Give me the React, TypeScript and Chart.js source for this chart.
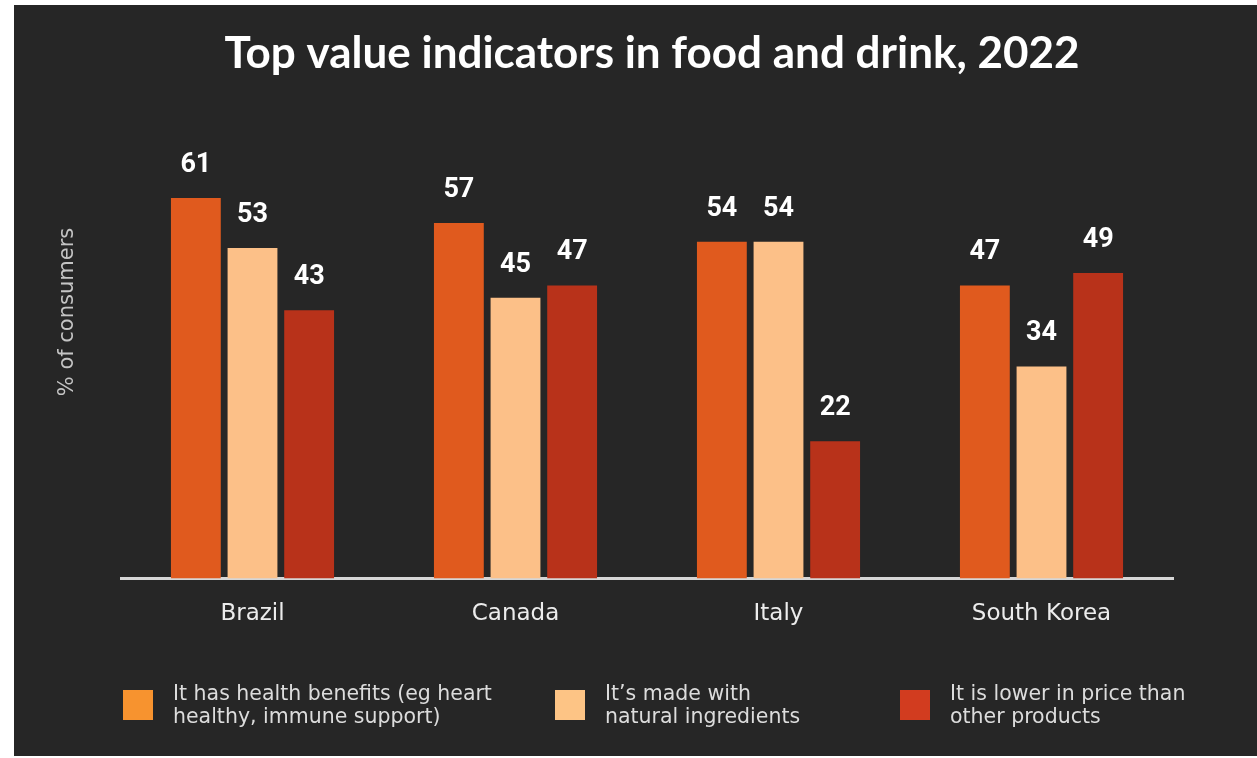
import React, { useEffect, useRef } from "react";
import { Chart, registerables } from "chart.js";

Chart.register(...registerables);

const titleText = "Top value indicators in food and drink, 2022";
const yAxisTitle = "% of consumers";
const countries = ["Brazil", "Canada", "Italy", "South Korea"];
const seriesNames = [
  "It has health benefits (eg heart healthy, immune support)",
  "It's made with natural ingredients",
  "It is lower in price than other products",
];
const legendLines = [
  ["It has health benefits (eg heart", "healthy, immune support)"],
  ["It\u2019s made with", "natural ingredients"],
  ["It is lower in price than", "other products"],
];
const healthBenefits = [61, 57, 54, 47];
const naturalIngredients = [53, 45, 54, 34];
const lowerPrice = [43, 47, 22, 49];

const barColors = ["#E05A1E", "#FCC088", "#B8321A"];
const legendColors = ["#F7932F", "#FDC485", "#D23C1F"];
const BG = "#262626";

const W = 1243;
const H = 751;

const decorPlugin = {
  id: "decor",
  beforeDraw(chart: any) {
    const ctx = chart.ctx;
    ctx.save();
    ctx.fillStyle = BG;
    ctx.fillRect(0, 0, chart.width, chart.height);
    ctx.restore();
  },
  afterDraw(chart: any) {
    const ctx = chart.ctx;
    ctx.save();
    // title
    ctx.fillStyle = "#ffffff";
    ctx.font = "bold 44px Lato";
    ctx.textAlign = "center";
    ctx.textBaseline = "alphabetic";
    ctx.fillText(titleText, 638, 63);

    // y axis title
    ctx.save();
    ctx.translate(54, 307);
    ctx.rotate(-Math.PI / 2);
    ctx.fillStyle = "#c4c4c4";
    ctx.font = "21px 'DejaVu Sans'";
    ctx.textAlign = "center";
    ctx.textBaseline = "middle";
    ctx.fillText(yAxisTitle, 0, 0);
    ctx.restore();

    // legend
    const itemX = [109, 541, 886];
    ctx.font = "20.5px 'DejaVu Sans'";
    ctx.textAlign = "left";
    ctx.textBaseline = "alphabetic";
    legendLines.forEach((lines, i) => {
      ctx.fillStyle = legendColors[i];
      ctx.fillRect(itemX[i], 685, 30, 30);
      ctx.fillStyle = "#dcdcdc";
      lines.forEach((ln, j) => {
        ctx.fillText(ln, itemX[i] + 50, 695 + j * 23);
      });
    });
    ctx.restore();
  },
  afterDatasetsDraw(chart: any) {
    const ctx = chart.ctx;
    ctx.save();
    ctx.fillStyle = "#ffffff";
    ctx.font = "bold 27px Roboto";
    ctx.textAlign = "center";
    ctx.textBaseline = "alphabetic";
    chart.data.datasets.forEach((ds: any, di: number) => {
      const meta = chart.getDatasetMeta(di);
      meta.data.forEach((bar: any, i: number) => {
        ctx.fillText(String(ds.data[i]), bar.x, bar.y - 26);
      });
    });
    ctx.restore();
  },
};

export default function App() {
  const ref = useRef<HTMLCanvasElement>(null);
  useEffect(() => {
    if (!ref.current) return;
    const series = [healthBenefits, naturalIngredients, lowerPrice];
    const chart = new Chart(ref.current, {
      type: "bar",
      data: {
        labels: countries,
        datasets: series.map((d, i) => ({
          label: seriesNames[i],
          data: d,
          backgroundColor: barColors[i],
          borderWidth: 0,
          categoryPercentage: 0.646,
          barPercentage: 0.88,
        })),
      },
      options: {
        responsive: false,
        animation: false,
        layout: { padding: { left: 107, right: 84, top: 137, bottom: 106 } },
        plugins: {
          legend: { display: false },
          title: { display: false },
          tooltip: { enabled: false },
        },
        scales: {
          x: {
            grid: { display: false, drawTicks: false, tickLength: 0 },
            border: { display: true, color: "#d6d6d6", width: 3 },
            ticks: {
              color: "#ececec",
              font: { family: "'DejaVu Sans'", size: 23 },
              padding: 22,
            },
          },
          y: {
            display: false,
            min: 0,
            max: 70,
          },
        },
      },
      plugins: [decorPlugin],
    });
    return () => chart.destroy();
  }, []);
  return (
    <div
      style={{
        position: "fixed",
        left: 14,
        top: 5,
        width: W,
        height: H,
        background: BG,
      }}
    >
      <canvas ref={ref} width={W} height={H} style={{ display: "block" }} />
    </div>
  );
}
